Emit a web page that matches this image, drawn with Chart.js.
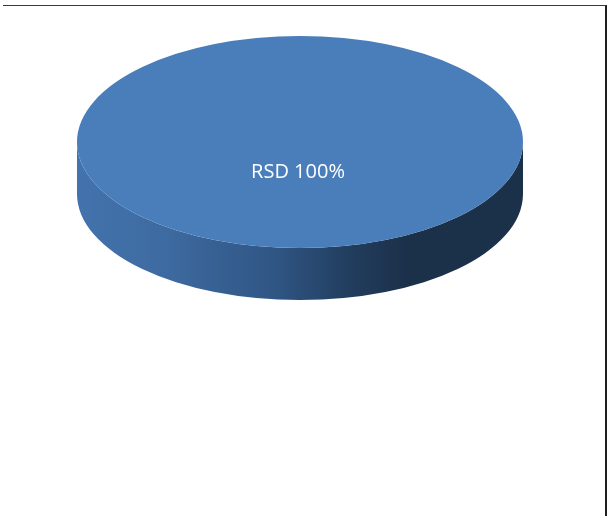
<!DOCTYPE html>
<html>
<head>
<meta charset="utf-8">
<script src="https://cdn.jsdelivr.net/npm/chart.js@4/dist/chart.umd.min.js"></script>
<style>
  html, body { margin: 0; padding: 0; background: #fff; }
  #wrap { position: relative; width: 610px; height: 516px; }
  #frame { position: absolute; left: 3px; top: 5px; width: 602px; height: 511px;
           border-top: 1px solid #3a3a3a; border-right: 2px solid #1e1e1e; pointer-events: none; }
  #c { position: absolute; left: 0; top: 0; }
</style>
</head>
<body>
<div id="wrap">
  <canvas id="c" width="610" height="516"></canvas>
  <div id="frame"></div>
</div>
<script>
const categories = ['RSD'];
const values = [100];
const percentLabels = ['100%'];

const topColor = '#4a7ebb';

// 3D extrusion / ellipse projection plugin
const pie3d = {
  id: 'pie3d',
  beforeDatasetsDraw(chart) {
    const arc = chart.getDatasetMeta(0).data[0];
    if (!arc) return;
    const ctx = chart.ctx;
    const R = arc.outerRadius;
    const cx = 300, cy = 142, rx = 223, ry = 106, depth = 52;
    chart.$p3 = { cx, cy, rx, ry, R, ax: arc.x, ay: arc.y };
    // side wall
    ctx.save();
    const g = ctx.createLinearGradient(cx - rx, 0, cx + rx, 0);
    g.addColorStop(0, '#4373ad');
    g.addColorStop(0.2, '#3d6aa0');
    g.addColorStop(0.45, '#2f5583');
    g.addColorStop(0.62, '#213c5c');
    g.addColorStop(0.75, '#1b3049');
    g.addColorStop(1, '#1b3049');
    ctx.beginPath();
    ctx.moveTo(cx - rx, cy);
    ctx.lineTo(cx - rx, cy + depth);
    ctx.ellipse(cx, cy + depth, rx, ry, 0, Math.PI, 0, true);
    ctx.lineTo(cx + rx, cy);
    ctx.ellipse(cx, cy, rx, ry, 0, 0, Math.PI, false);
    ctx.closePath();
    ctx.fillStyle = g;
    ctx.fill();
    ctx.restore();
    // project top face
    ctx.save();
    ctx.translate(cx, cy);
    ctx.scale(rx / R, ry / R);
    ctx.translate(-arc.x, -arc.y);
  },
  afterDatasetsDraw(chart) {
    const ctx = chart.ctx;
    ctx.restore();
    const p = chart.$p3;
    if (!p) return;
    ctx.save();
    ctx.fillStyle = '#ffffff';
    ctx.font = '20px "Open Sans", "DejaVu Sans", sans-serif';
    ctx.textAlign = 'center';
    ctx.textBaseline = 'middle';
    ctx.fillText(categories[0] + ' ' + percentLabels[0], p.cx - 2, p.cy + 30);
    ctx.restore();
  }
};

new Chart(document.getElementById('c'), {
  type: 'pie',
  data: {
    labels: categories,
    datasets: [{
      data: values,
      backgroundColor: [topColor],
      borderWidth: 0
    }]
  },
  options: {
    responsive: false,
    animation: false,
    plugins: { legend: { display: false }, tooltip: { enabled: false } }
  },
  plugins: [pie3d]
});
</script>
</body>
</html>
